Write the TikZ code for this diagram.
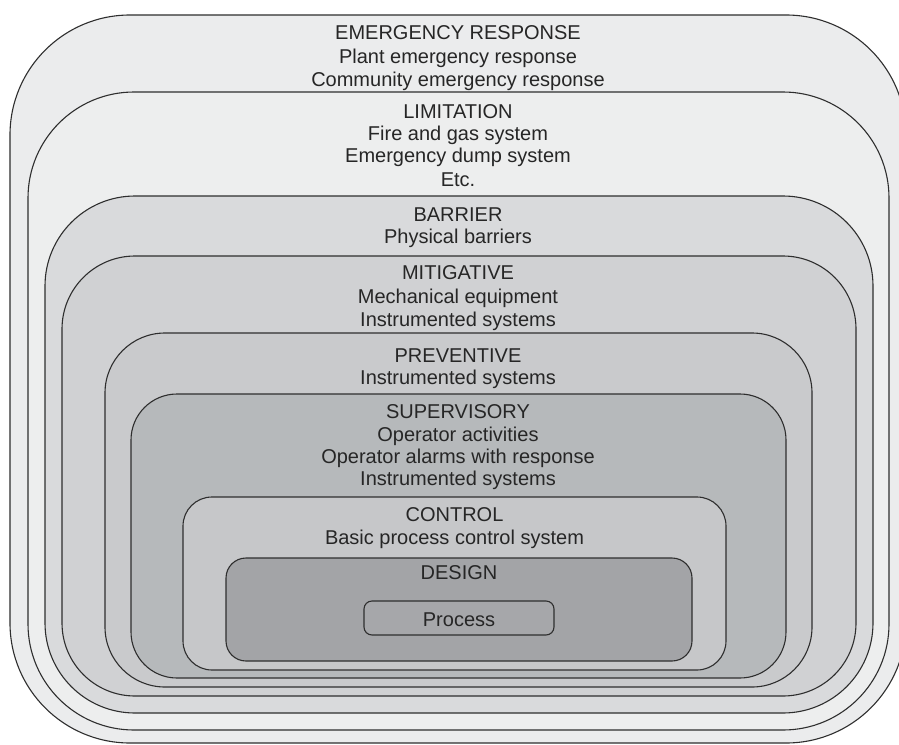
\documentclass[tikz,border=0pt]{standalone}
\usepackage{fontspec}
\setmainfont{Liberation Sans}
\definecolor{txt}{HTML}{262626}
\definecolor{edge}{HTML}{2E2E2E}
\definecolor{cER}{HTML}{EBECED}
\definecolor{cLI}{HTML}{EDEEEE}
\definecolor{cBA}{HTML}{D9DADC}
\definecolor{cMI}{HTML}{D0D1D3}
\definecolor{cPR}{HTML}{C9CACC}
\definecolor{cSU}{HTML}{B6B9BB}
\definecolor{cCO}{HTML}{C6C7C9}
\definecolor{cDE}{HTML}{A3A4A7}
\definecolor{cPC}{HTML}{A6A7AA}
\begin{document}
\begin{tikzpicture}[x=1pt,y=-1pt,
  layer/.style={draw=edge,line width=1.1pt},
  lbl/.style={anchor=base,inner sep=0pt,text=txt,font=\fontsize{20}{24}\selectfont}]
\useasboundingbox (0,0) rectangle (899,744);
\clip (0,0) rectangle (899,744);
\fill[white] (0,0) rectangle (899,744);
% layers
\draw[layer,fill=cER,rounded corners=120pt] (10,15) rectangle (906,743);
\draw[layer,fill=cLI,rounded corners=106pt] (28,92) rectangle (889,730);
\draw[layer,fill=cBA,rounded corners=90pt] (45,196) rectangle (873,713);
\draw[layer,fill=cMI,rounded corners=73pt] (62,256) rectangle (856,696);
\draw[layer,fill=cPR,rounded corners=60pt] (105,333) rectangle (812,687);
\draw[layer,fill=cSU,rounded corners=46pt] (131,394) rectangle (786,678);
\draw[layer,fill=cCO,rounded corners=29pt] (183,497) rectangle (726,670);
\draw[layer,fill=cDE,rounded corners=20pt] (226,558) rectangle (692,661);
\draw[layer,fill=cPC,rounded corners=8pt] (364,601) rectangle (554,635);
% texts
\node[lbl] (er1) at (458,39) {EMERGENCY RESPONSE};
\node[lbl] (er2) at (458,63) {Plant emergency response};
\node[lbl] (er3) at (458,86) {Community emergency response};
\node[lbl] (li1) at (458,118) {LIMITATION};
\node[lbl] (li2) at (458,140) {Fire and gas system};
\node[lbl] (li3) at (458,162) {Emergency dump system};
\node[lbl] (li4) at (458,186) {Etc.};
\node[lbl] (ba1) at (458,221) {BARRIER};
\node[lbl] (ba2) at (458,243) {Physical barriers};
\node[lbl] (mi1) at (458,279) {MITIGATIVE};
\node[lbl] (mi2) at (458,303) {Mechanical equipment};
\node[lbl] (mi3) at (458,326) {Instrumented systems};
\node[lbl] (pr1) at (458,362) {PREVENTIVE};
\node[lbl] (pr2) at (458,384) {Instrumented systems};
\node[lbl] (su1) at (458,418) {SUPERVISORY};
\node[lbl] (su2) at (458,441) {Operator activities};
\node[lbl] (su3) at (458,463) {Operator alarms with response};
\node[lbl] (su4) at (458,485) {Instrumented systems};
\node[lbl] (co1) at (454.5,521) {CONTROL};
\node[lbl] (co2) at (454.5,544) {Basic process control system};
\node[lbl] (de1) at (459,579) {DESIGN};
\node[lbl] (pc1) at (459,626) {Process};
\end{tikzpicture}
\end{document}
